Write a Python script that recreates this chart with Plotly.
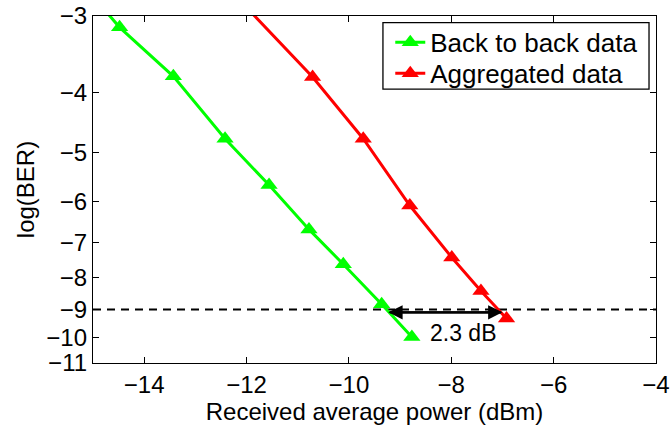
import math
import plotly.graph_objects as go

# Back to back data (received power dBm, log10 BER); first point lies just above the axis range
b2b_power = [-14.87, -14.48, -13.43, -12.42, -11.56, -10.78, -10.11, -9.36, -8.77]
b2b_logber = [-2.87, -3.13, -3.76, -4.75, -5.65, -6.67, -7.60, -8.83, -9.98]

# Aggregated data
agg_power = [-12.13, -10.71, -9.72, -8.81, -7.99, -7.42, -6.92]
agg_logber = [-2.83, -3.77, -4.75, -6.10, -7.41, -8.40, -9.31]

ytick_vals = [-3, -4, -5, -6, -7, -8, -9, -10, -11]
xtick_vals = [-14, -12, -10, -8, -6, -4]
threshold = -9
arrow_left, arrow_right, arrow_level = -9.23, -7.0, -9.1
penalty_label = "2.3 dB"
penalty_label_x = -7.77

FONT = "Liberation Sans, Arial, Helvetica, sans-serif"
MS = 15

def neg(vals):
    return [-v for v in vals]

fig = go.Figure()

fig.add_trace(go.Scatter(
    x=[-15, -4], y=neg([threshold, threshold]), mode="lines",
    line=dict(color="black", width=2, dash="8px,6px"),
    showlegend=False, hoverinfo="skip"))

fig.add_trace(go.Scatter(
    x=b2b_power[1:], y=neg(b2b_logber[1:]), mode="markers",
    marker=dict(symbol="triangle-up", size=MS, color="#00ff00"),
    showlegend=False))
fig.add_trace(go.Scatter(
    x=b2b_power, y=neg(b2b_logber), mode="lines",
    line=dict(color="#00ff00", width=3), showlegend=False))
fig.add_trace(go.Scatter(
    x=agg_power[1:], y=neg(agg_logber[1:]), mode="markers",
    marker=dict(symbol="triangle-up", size=MS, color="#ff0000"),
    showlegend=False))
fig.add_trace(go.Scatter(
    x=agg_power, y=neg(agg_logber), mode="lines",
    line=dict(color="#ff0000", width=3), showlegend=False))

# legend entries
fig.add_trace(go.Scatter(
    x=[None], y=[None], mode="lines+markers", name="Back to back data",
    line=dict(color="#00ff00", width=3), legend="legend",
    marker=dict(symbol="triangle-up", size=MS, color="#00ff00")))
fig.add_trace(go.Scatter(
    x=[None], y=[None], mode="lines+markers", name="Aggregated data",
    line=dict(color="#ff0000", width=3), legend="legend2",
    marker=dict(symbol="triangle-up", size=MS, color="#ff0000")))

ly = math.log10(-arrow_level)
for a, b in [(arrow_left, arrow_right), (arrow_right, arrow_left)]:
    fig.add_annotation(
        x=b, y=ly, ax=a, ay=ly, xref="x", yref="y", axref="x", ayref="y",
        text="", showarrow=True, arrowhead=2, arrowsize=1.3, arrowwidth=2.2,
        arrowcolor="black")

fig.add_annotation(
    x=penalty_label_x, y=ly, xref="x", yref="y",
    text=penalty_label, showarrow=False, yshift=-21,
    font=dict(family=FONT, size=23, color="black"))

# legend frame
fig.add_shape(type="rect", xref="paper", yref="paper",
              x0=0.515, x1=0.9876, y0=0.789, y1=0.981,
              line=dict(color="black", width=1.3), fillcolor="white", layer="above")

leg_common = dict(xanchor="left", yanchor="middle", bgcolor="rgba(0,0,0,0)",
                  borderwidth=0, font=dict(family=FONT, size=26, color="black"),
                  itemwidth=30)

fig.update_layout(
    width=672, height=426,
    margin=dict(l=93, r=16, t=16, b=63, autoexpand=False),
    paper_bgcolor="white", plot_bgcolor="white",
    font=dict(family=FONT, size=24, color="black"),
    legend=dict(x=0.528, y=0.924, **leg_common),
    legend2=dict(x=0.528, y=0.835, **leg_common),
)

fig.update_xaxes(
    range=[-15, -4], tickvals=xtick_vals, automargin=False,
    ticks="inside", ticklen=6, tickcolor="black", tickwidth=1,
    showline=True, linecolor="black", linewidth=1.3, mirror="ticks",
    showgrid=False, zeroline=False,
    title=dict(text="Received average power (dBm)", standoff=0,
               font=dict(family=FONT, size=24)),
    tickfont=dict(family=FONT, size=24))

fig.update_yaxes(
    type="log", range=[math.log10(11), math.log10(3)], automargin=False,
    tickvals=neg(ytick_vals), ticktext=["\u2212" + str(-v) for v in ytick_vals],
    ticks="inside", ticklen=6, tickcolor="black", tickwidth=1,
    showline=True, linecolor="black", linewidth=1.3, mirror="ticks",
    showgrid=False, zeroline=False,
    title=dict(text="log(BER)", standoff=4, font=dict(family=FONT, size=24)),
    tickfont=dict(family=FONT, size=24))

fig.write_html("out.html")
